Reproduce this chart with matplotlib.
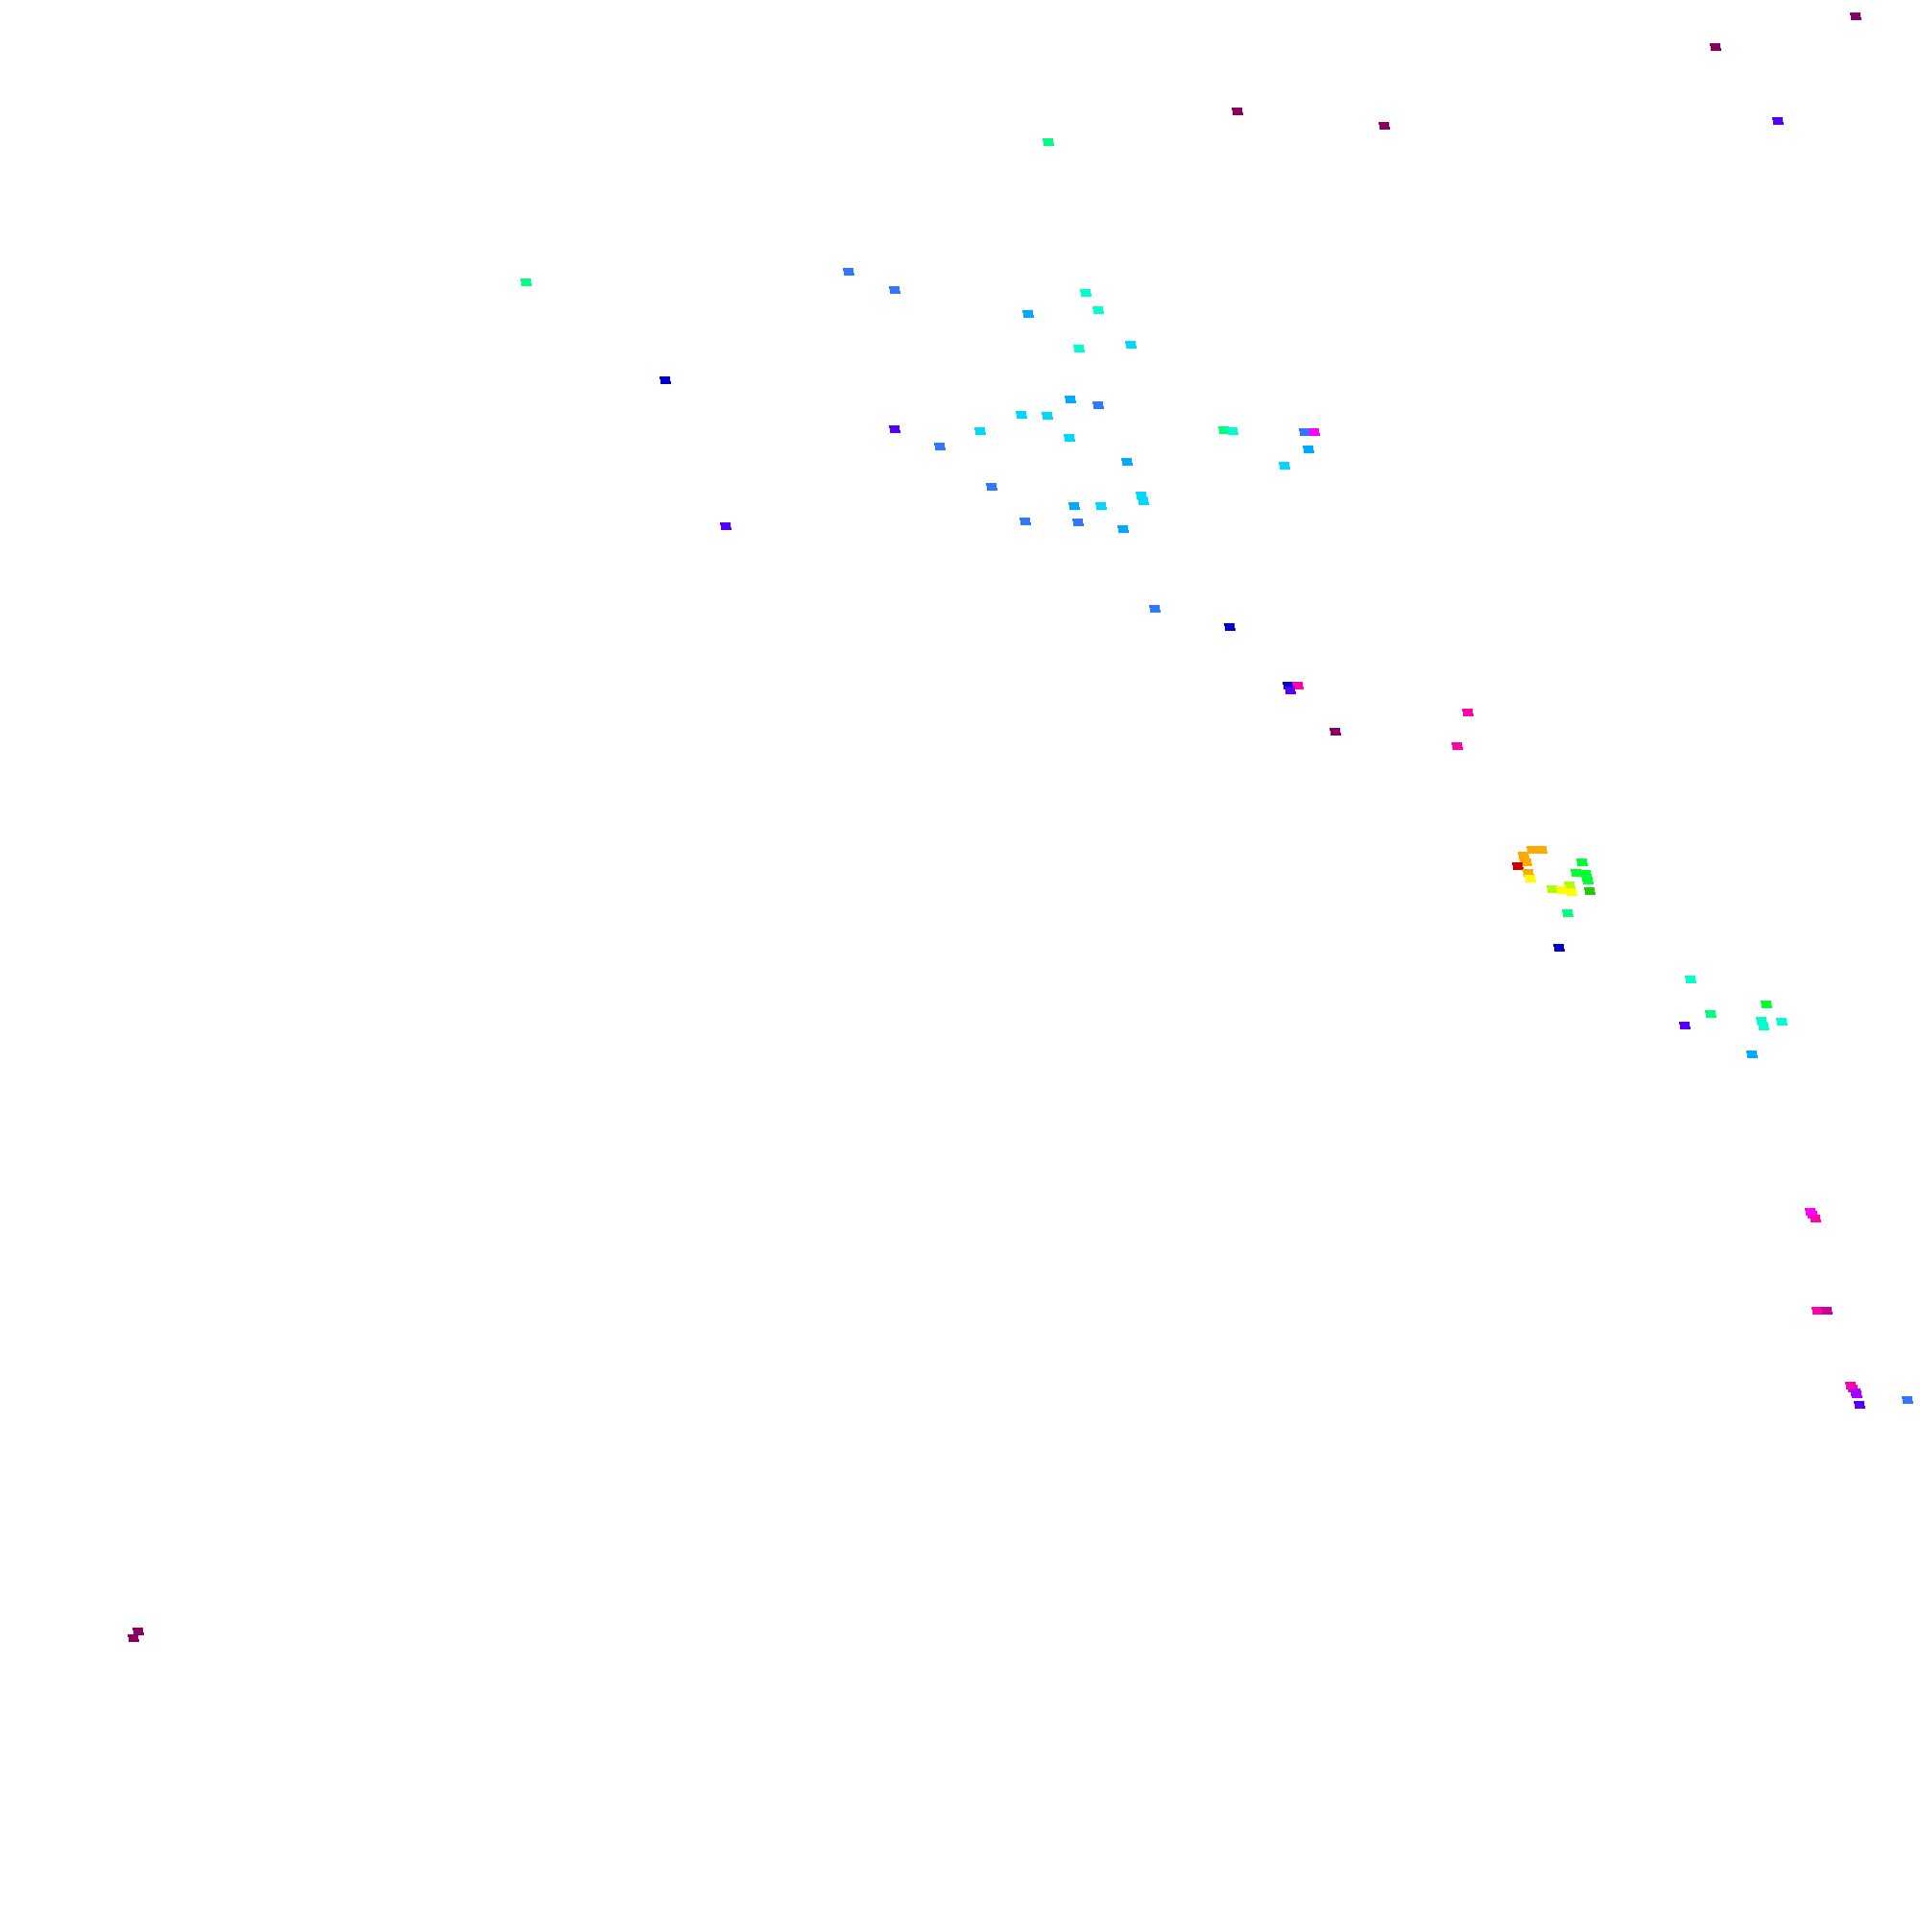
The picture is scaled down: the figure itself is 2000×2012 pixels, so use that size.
import matplotlib
matplotlib.use("Agg")
import matplotlib.pyplot as plt
from matplotlib.path import Path
from matplotlib.colors import ListedColormap
import numpy as np

# point positions (horizontal / vertical coordinate, vertical grows downward)
x = [1933, 1787, 1289, 1442, 1852, 1092, 548, 884, 932, 1131,
     1144, 1071, 1124, 1178, 693, 1115, 1144, 1064, 1091, 932,
     1021, 1114, 979, 1174, 1033, 1189, 1191, 1119, 1147, 1068,
     1123, 1170, 756, 1275, 1284, 1359, 1369, 1363, 1338, 1203,
     1281, 1342, 1352, 1344, 1391, 1529, 1518,
     1596, 1606, 1587, 1588, 1590, 1581, 1592, 1594, 1648, 1642,
     1652, 1653, 1654, 1635, 1617, 1627, 1637, 1656, 1633,
     1624, 1761, 1840, 1782, 1755, 1835, 1837, 1856, 1825,
     1886, 1888, 1891, 1893, 1903, 1928, 1930, 1933, 1934, 1937, 1987,
     144, 139]
y = [17, 49, 116, 131, 126, 148, 294, 283, 302, 305,
     323, 327, 363, 359, 396, 416, 422, 432, 433, 447,
     449, 456, 465, 481, 507, 516, 522, 527, 527, 543,
     544, 551, 548, 448, 449, 450, 450, 468, 485, 634,
     653, 714, 714, 719, 762, 742, 777,
     885, 885, 891, 895, 898, 902, 909, 915, 898, 909,
     910, 914, 917, 922, 926, 927, 929, 928, 951,
     987, 1020, 1046, 1056, 1068, 1063, 1069, 1064, 1098,
     1262, 1265, 1269, 1365, 1365, 1443, 1446, 1450, 1452, 1463, 1458,
     1699, 1706]
# colour level of each point
level = [17, 17, 17, 17, 12, 6, 6, 10, 10, 7,
         7, 9, 7, 8, 11, 9, 10, 8, 8, 12,
         8, 8, 10, 9, 10, 8, 8, 9, 8, 10,
         10, 9, 12, 6, 7, 10, 14, 9, 8, 10,
         11, 11, 15, 12, 17, 15, 15,
         1, 1, 1, 1, 1, 0, 1, 2, 4, 4,
         4, 4, 4, 3, 3, 2, 2, 5, 6,
         11, 7, 4, 6, 12, 7, 7, 7, 9,
         14, 14, 15, 15, 16, 15, 15, 13, 13, 12, 10,
         17, 17]

palette = ["#cc0000", "#ffaa00", "#ffff00", "#aaff00", "#00ff33", "#22cc00",
           "#00ff80", "#00ffcc", "#00d8ff", "#00aaff", "#3377ff", "#0000cc",
           "#5500ff", "#aa00ff", "#ff00ff", "#ff00aa", "#cc0099", "#880060"]
cmap = ListedColormap(palette)

W, H, DPI = 2000, 2012, 100
fig = plt.figure(figsize=(W / DPI, H / DPI), dpi=DPI)
ax = fig.add_axes([0, 0, 1, 1])
ax.set_xlim(0, W)
ax.set_ylim(H, 0)
ax.axis("off")

# slanted parallelogram marker (like a tiny tile seen in perspective)
verts = [(-5.5, 3.2), (4.0, 3.2), (5.5, -3.2), (-4.0, -3.2), (-5.5, 3.2)]
codes = [Path.MOVETO, Path.LINETO, Path.LINETO, Path.LINETO, Path.CLOSEPOLY]
marker = Path(verts, codes)
ms_pt = 11 / (DPI / 72.0)

ax.scatter(x, y, c=level, cmap=cmap, vmin=-0.5, vmax=len(palette) - 0.5,
           marker=marker, s=ms_pt ** 2, linewidths=0, antialiased=False)

fig.savefig("out.png", dpi=DPI, facecolor="white")
